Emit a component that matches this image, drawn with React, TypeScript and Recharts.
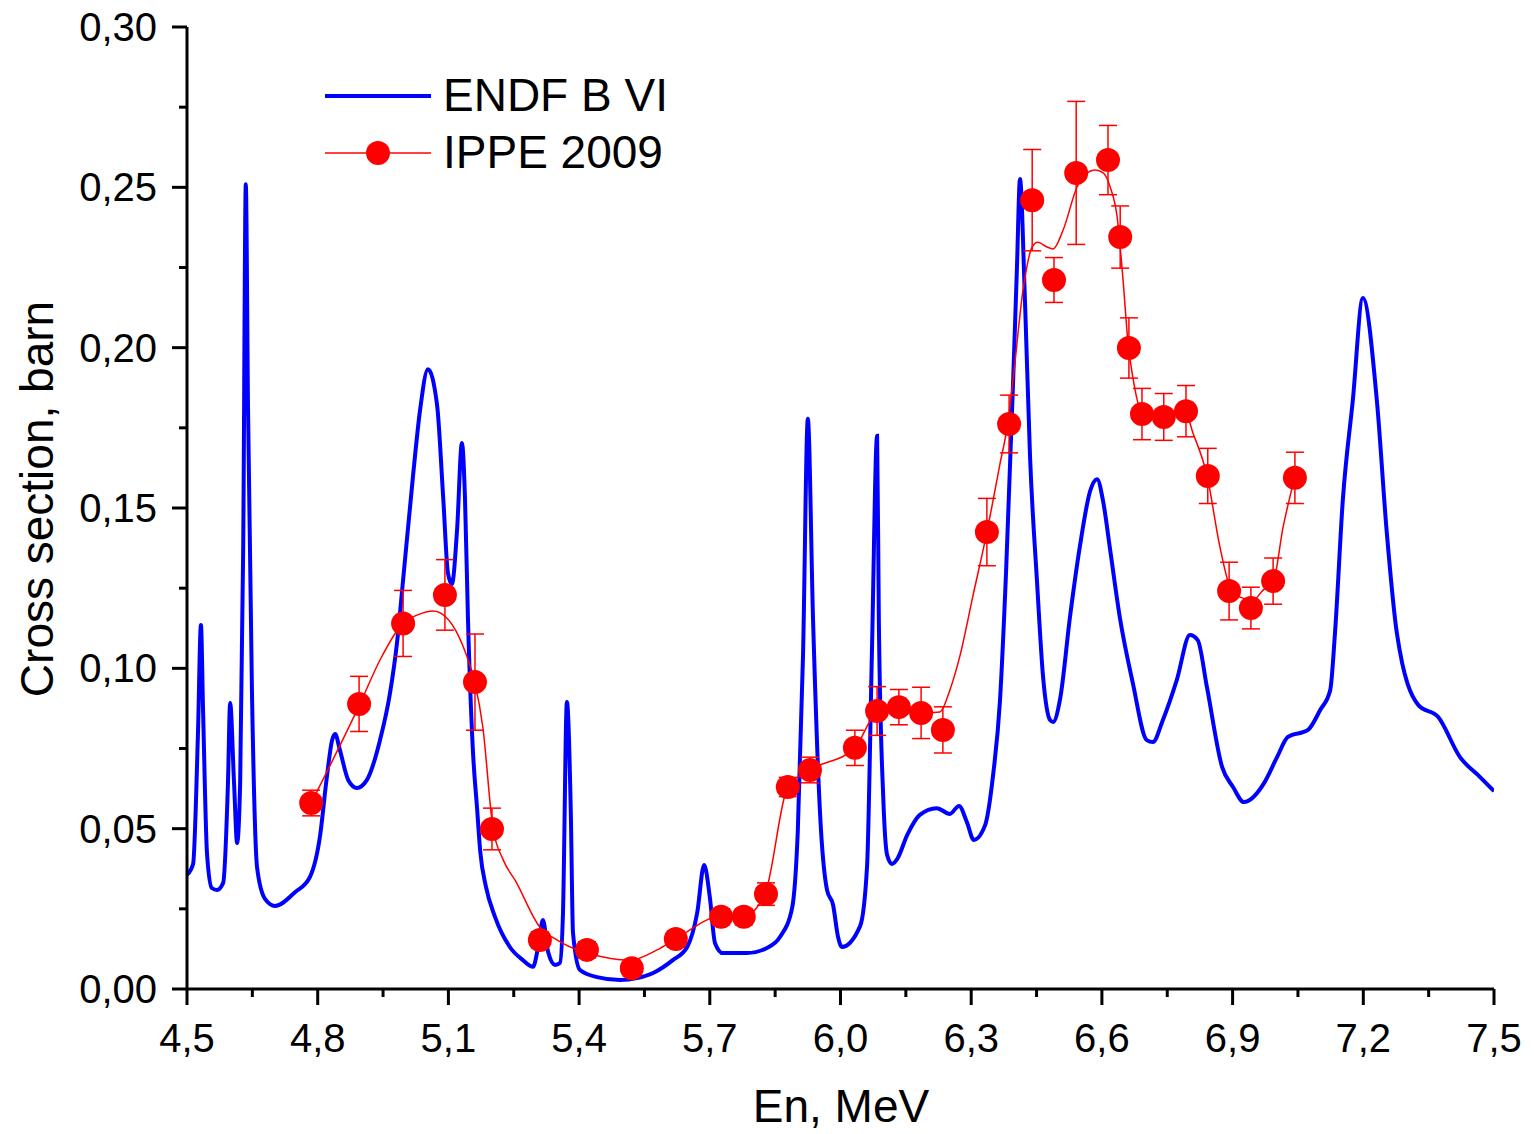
import { ComposedChart, Line, Scatter, XAxis, YAxis, ErrorBar, Legend, Label } from "recharts"

const FONT = '"Liberation Sans", Arial, sans-serif'

const endfEnergy = [
  4.500, 4.514, 4.525, 4.532, 4.537, 4.546, 4.557, 4.569, 4.583, 4.594,
  4.599, 4.608, 4.615, 4.622, 4.629, 4.635, 4.640, 4.649, 4.661, 4.679,
  4.702, 4.748, 4.782, 4.805, 4.821, 4.833, 4.840, 4.851, 4.870, 4.890,
  4.913, 4.943, 4.966, 4.982, 4.996, 5.019, 5.035, 5.053, 5.074, 5.088,
  5.099, 5.108, 5.120, 5.131, 5.138, 5.145, 5.156, 5.166, 5.173, 5.186,
  5.207, 5.241, 5.271, 5.294, 5.306, 5.317, 5.329, 5.345, 5.356, 5.363,
  5.372, 5.381, 5.386, 5.402, 5.441, 5.494, 5.533, 5.570, 5.615, 5.648,
  5.671, 5.687, 5.700, 5.712, 5.730, 5.785, 5.831, 5.861, 5.889, 5.902,
  5.914, 5.925, 5.937, 5.953, 5.969, 5.983, 5.994, 6.003, 6.045, 6.061,
  6.072, 6.084, 6.088, 6.098, 6.107, 6.118, 6.130, 6.153, 6.182, 6.221,
  6.251, 6.272, 6.290, 6.306, 6.332, 6.350, 6.366, 6.380, 6.396, 6.405,
  6.412, 6.423, 6.435, 6.451, 6.465, 6.481, 6.488, 6.504, 6.527, 6.550,
  6.573, 6.589, 6.603, 6.619, 6.641, 6.671, 6.703, 6.717, 6.740, 6.772,
  6.802, 6.820, 6.841, 6.876, 6.901, 6.926, 6.974, 7.002, 7.027, 7.073,
  7.101, 7.124, 7.135, 7.153, 7.176, 7.199, 7.231, 7.254, 7.277, 7.326,
  7.372, 7.422, 7.468, 7.500,
]
const endfSigma = [
  0.0356, 0.0390, 0.0789, 0.1135, 0.0861, 0.0421, 0.0315, 0.0309, 0.0331, 0.0642,
  0.0892, 0.0642, 0.0455, 0.0642, 0.1375, 0.2510, 0.1818, 0.0936, 0.0377, 0.0281,
  0.0259, 0.0302, 0.0349, 0.0474, 0.0661, 0.0776, 0.0795, 0.0745, 0.0652, 0.0627,
  0.0652, 0.0776, 0.0923, 0.1079, 0.1275, 0.1603, 0.1806, 0.1933, 0.1821, 0.1534,
  0.1297, 0.1263, 0.1434, 0.1703, 0.1534, 0.1150, 0.0750, 0.0560, 0.0430, 0.0320,
  0.0225, 0.0131, 0.0090, 0.0069, 0.0131, 0.0215, 0.0115, 0.0075, 0.0081, 0.0237,
  0.0895, 0.0549, 0.0175, 0.0059, 0.0037, 0.0028, 0.0034, 0.0050, 0.0090, 0.0131,
  0.0237, 0.0387, 0.0287, 0.0143, 0.0112, 0.0112, 0.0128, 0.0162, 0.0253, 0.0493,
  0.1042, 0.1778, 0.1151, 0.0549, 0.0309, 0.0262, 0.0165, 0.0131, 0.0196, 0.0384,
  0.1042, 0.1725, 0.1151, 0.0602, 0.0418, 0.0390, 0.0405, 0.0480, 0.0543, 0.0564,
  0.0546, 0.0571, 0.0521, 0.0465, 0.0511, 0.0664, 0.0898, 0.1300, 0.1887, 0.2250,
  0.2526, 0.2164, 0.1662, 0.1272, 0.0973, 0.0839, 0.0833, 0.0904, 0.1163, 0.1385,
  0.1553, 0.1590, 0.1519, 0.1369, 0.1160, 0.0954, 0.0776, 0.0770, 0.0839, 0.0964,
  0.1104, 0.1088, 0.0942, 0.0692, 0.0630, 0.0583, 0.0646, 0.0723, 0.0786, 0.0808,
  0.0870, 0.0932, 0.1110, 0.1525, 0.1837, 0.2155, 0.1837, 0.1422, 0.1110, 0.0886,
  0.0848, 0.0723, 0.0661, 0.0617,
]

// IPPE 2009 measured points
const ippeEnergy = [
  4.785, 4.895, 4.996, 5.092, 5.161, 5.200, 5.310, 5.418, 5.521, 5.622,
  5.726, 5.778, 5.829, 5.879, 5.930, 6.033, 6.084, 6.134, 6.185, 6.235,
  6.336, 6.387, 6.440, 6.490, 6.541, 6.614, 6.642, 6.662, 6.692, 6.742,
  6.793, 6.843, 6.892, 6.942, 6.993, 7.043,
]
const ippeSigma = [
  0.0580, 0.0889, 0.1140, 0.1229, 0.0957, 0.0499, 0.0153, 0.0122, 0.0065, 0.0156,
  0.0225, 0.0225, 0.0296, 0.0630, 0.0683, 0.0752, 0.0867, 0.0879, 0.0861, 0.0808,
  0.1425, 0.1762, 0.2460, 0.2211, 0.2545, 0.2585, 0.2345, 0.1999, 0.1793, 0.1784,
  0.1802, 0.1600, 0.1241, 0.1188, 0.1272, 0.1594,
]
const ippeError = [
  0.0040, 0.0086, 0.0103, 0.0110, 0.0150, 0.0065, 0.0025, 0.0025, 0.0025, 0.0025,
  0.0025, 0.0025, 0.0035, 0.0030, 0.0040, 0.0055, 0.0076, 0.0055, 0.0080, 0.0072,
  0.0105, 0.0090, 0.0158, 0.0070, 0.0223, 0.0108, 0.0097, 0.0094, 0.0080, 0.0073,
  0.0080, 0.0086, 0.0090, 0.0065, 0.0072, 0.0080,
]

// smooth curve drawn through the IPPE points
const fitEnergy = [
  4.785, 4.897, 4.943, 4.996, 5.028, 5.065, 5.094, 5.120, 5.143, 5.161,
  5.179, 5.202, 5.225, 5.255, 5.310, 5.349, 5.395, 5.455, 5.517, 5.579,
  5.625, 5.723, 5.776, 5.827, 5.879, 5.930, 6.033, 6.084, 6.132, 6.187,
  6.228, 6.251, 6.274, 6.304, 6.336, 6.366, 6.384, 6.396, 6.419, 6.440,
  6.453, 6.474, 6.488, 6.511, 6.543, 6.566, 6.584, 6.603, 6.619, 6.635,
  6.648, 6.660, 6.671, 6.692, 6.717, 6.740, 6.791, 6.809, 6.841, 6.871,
  6.894, 6.917, 6.947, 6.970, 6.993, 7.016, 7.043,
]
const fitSigma = [
  0.0580, 0.0889, 0.1026, 0.1141, 0.1166, 0.1179, 0.1160, 0.1110, 0.1035, 0.0954,
  0.0817, 0.0505, 0.0405, 0.0335, 0.0193, 0.0153, 0.0122, 0.0100, 0.0090, 0.0122,
  0.0159, 0.0225, 0.0225, 0.0299, 0.0630, 0.0683, 0.0752, 0.0864, 0.0879, 0.0861,
  0.0864, 0.0932, 0.1038, 0.1226, 0.1425, 0.1637, 0.1765, 0.1899, 0.2180, 0.2314,
  0.2329, 0.2314, 0.2308, 0.2367, 0.2501, 0.2545, 0.2554, 0.2545, 0.2501, 0.2407,
  0.2220, 0.2015, 0.1908, 0.1796, 0.1784, 0.1784, 0.1799, 0.1734, 0.1603, 0.1378,
  0.1254, 0.1222, 0.1213, 0.1244, 0.1269, 0.1441, 0.1597,
]

const xTicks = [4.5, 4.65, 4.8, 4.95, 5.1, 5.25, 5.4, 5.55, 5.7, 5.85, 6.0, 6.15, 6.3, 6.45, 6.6, 6.75, 6.9, 7.05, 7.2, 7.35, 7.5]
const yTicks = [0, 0.025, 0.05, 0.075, 0.1, 0.125, 0.15, 0.175, 0.2, 0.225, 0.25, 0.275, 0.3]

const endfData = endfEnergy.map((e, i) => ({ e, s: endfSigma[i] }))
const ippeData = ippeEnergy.map((e, i) => ({ e, s: ippeSigma[i], err: ippeError[i] }))
const fitData = fitEnergy.map((e, i) => ({ e, s: fitSigma[i] }))

const XTick = (props: any) => {
  const { x, y, payload, index } = props
  const major = index % 2 === 0
  return (
    <g>
      <line x1={x} x2={x} y1={y} y2={y + (major ? 16 : 8)} stroke="#000" strokeWidth={3} />
      {major && (
        <text x={x} y={y + 63} textAnchor="middle" fontSize={40} fill="#000">
          {payload.value.toFixed(1).replace(".", ",")}
        </text>
      )}
    </g>
  )
}

const YTick = (props: any) => {
  const { x, y, payload, index } = props
  const major = index % 2 === 0
  return (
    <g>
      <line x1={x} x2={x - (major ? 15 : 8)} y1={y} y2={y} stroke="#000" strokeWidth={3} />
      {major && (
        <text x={x - 30} y={y} textAnchor="end" dominantBaseline="central" fontSize={40} fill="#000">
          {payload.value.toFixed(2).replace(".", ",")}
        </text>
      )}
    </g>
  )
}

const LegendBox = () => (
  <div style={{ fontFamily: FONT, fontSize: 46, color: "#000", lineHeight: "57px" }}>
    <div style={{ display: "flex", alignItems: "center", height: 57 }}>
      <svg width={106} height={30}>
        <line x1={0} x2={106} y1={15} y2={15} stroke="#0000ff" strokeWidth={4} />
      </svg>
      <span style={{ marginLeft: 12 }}>ENDF B VI</span>
    </div>
    <div style={{ display: "flex", alignItems: "center", height: 57 }}>
      <svg width={106} height={30}>
        <line x1={0} x2={106} y1={15} y2={15} stroke="#ff0000" strokeWidth={1.5} />
        <circle cx={53} cy={15} r={12} fill="#ff0000" />
      </svg>
      <span style={{ marginLeft: 12 }}>IPPE 2009</span>
    </div>
  </div>
)

export default function App() {
  return (
    <div style={{ position: "absolute", left: 0, top: 0, fontFamily: FONT, background: "#fff" }}>
      <ComposedChart width={1534} height={1134} margin={{ top: 27, right: 40, bottom: 0, left: 0 }}>
        <XAxis
          type="number"
          dataKey="e"
          domain={[4.5, 7.5]}
          ticks={xTicks}
          interval={0}
          height={145}
          tickSize={0}
          tickMargin={0}
          tickLine={false}
          tick={<XTick />}
          axisLine={{ stroke: "#000", strokeWidth: 3 }}
          allowDataOverflow
        >
          <Label
            content={() => (
              <text x={841} y={1122} textAnchor="middle" fontSize={46} fill="#000">
                En, MeV
              </text>
            )}
          />
        </XAxis>
        <YAxis
          type="number"
          dataKey="s"
          domain={[0, 0.3]}
          ticks={yTicks}
          interval={0}
          width={187}
          tickSize={0}
          tickMargin={0}
          tickLine={false}
          tick={<YTick />}
          axisLine={{ stroke: "#000", strokeWidth: 3 }}
          allowDataOverflow
        >
          <Label
            content={() => (
              <text
                transform="translate(37, 499) rotate(-90)"
                textAnchor="middle"
                dominantBaseline="central"
                fontSize={46}
                fill="#000"
              >
                Cross section, barn
              </text>
            )}
          />
        </YAxis>
        <Legend
          layout="horizontal"
          verticalAlign="middle"
          align="center"
          content={<LegendBox />}
          wrapperStyle={{ top: 67, left: 325, width: 420, height: 114 }}
        />
        <Line
          data={endfData}
          dataKey="s"
          type="monotone"
          stroke="#0000ff"
          strokeWidth={4}
          dot={false}
          activeDot={false}
          isAnimationActive={false}
        />
        <Line
          data={fitData}
          dataKey="s"
          type="monotone"
          stroke="#ff0000"
          strokeWidth={1.5}
          dot={false}
          activeDot={false}
          isAnimationActive={false}
        />
        <Scatter
          data={ippeData}
          dataKey="s"
          fill="#ff0000"
          isAnimationActive={false}
          shape={(p: any) => <circle cx={p.cx} cy={p.cy} r={12} fill="#ff0000" />}
        >
          <ErrorBar dataKey="err" direction="y" width={9} stroke="#ff0000" strokeWidth={1.5} />
        </Scatter>
      </ComposedChart>
    </div>
  )
}
